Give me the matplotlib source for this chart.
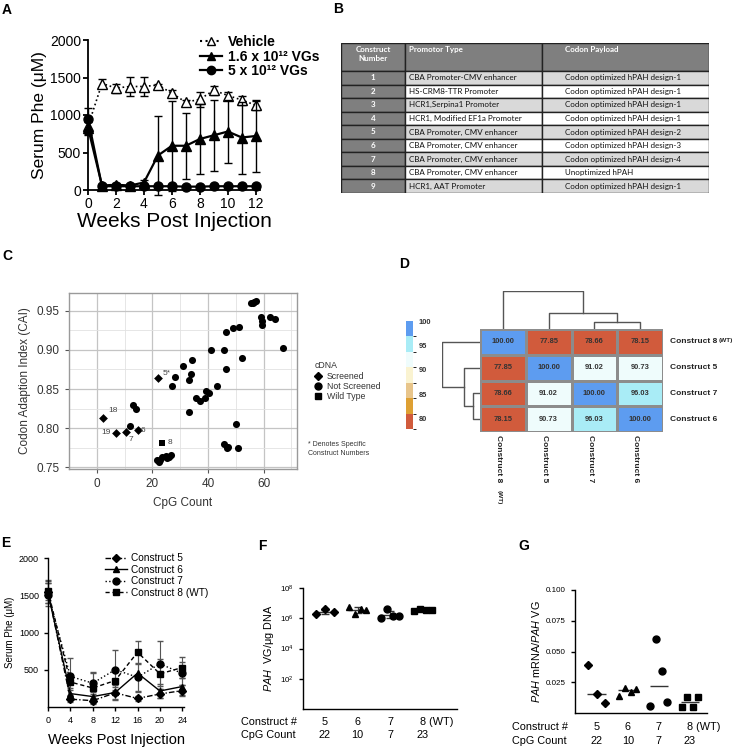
import numpy as np
import matplotlib
matplotlib.use("Agg")
import matplotlib.pyplot as plt
from matplotlib.colors import ListedColormap, BoundaryNorm
from matplotlib.cm import ScalarMappable
from matplotlib.lines import Line2D
from matplotlib.patches import Rectangle

plt.rcParams['font.family'] = ['Liberation Sans', 'DejaVu Sans']
plt.rcParams['mathtext.fontset'] = 'custom'
plt.rcParams['mathtext.rm'] = 'Liberation Sans'
plt.rcParams['mathtext.it'] = 'Liberation Sans:italic'
plt.rcParams['mathtext.bf'] = 'Liberation Sans:bold'
plt.rcParams['mathtext.default'] = 'regular'

W, H = 736, 747

# ---------------- panel A: serum Phe over 12 weeks
a_weeks = [0, 1, 2, 3, 4, 5, 6, 7, 8, 9, 10, 11, 12]
a_vehicle = [850, 1420, 1360, 1380, 1380, 1400, 1290, 1170, 1210, 1330, 1260, 1200, 1130]
a_vehicle_sd = [110, 60, 60, 130, 130, 20, 50, 30, 100, 60, 50, 60, 60]
a_low = [830, 60, 70, 60, 100, 460, 590, 590, 680, 730, 780, 700, 720]
a_low_sd = [80, 20, 20, 20, 30, 530, 600, 440, 470, 470, 420, 480, 480]
a_high = [950, 50, 50, 50, 50, 50, 50, 45, 45, 50, 50, 50, 50]
a_high_sd = [150, 10, 10, 10, 10, 10, 10, 10, 10, 10, 10, 10, 10]
a_labels = ['Vehicle', '1.6 x 10¹² VGs', '5 x 10¹² VGs']

# ---------------- panel B: construct table
b_headers = ['Construct\nNumber', 'Promotor Type', 'Codon Payload']
b_numbers = ['1', '2', '3', '4', '5', '6', '7', '8', '9']
b_promoters = ['CBA Promoter-CMV enhancer', 'HS-CRM8-TTR Promoter', 'HCR1,Serpina1 Promoter',
               'HCR1, Modified EF1a Promoter', 'CBA Promoter, CMV enhancer',
               'CBA Promoter, CMV enhancer', 'CBA Promoter, CMV enhancer',
               'CBA Promoter, CMV enhancer', 'HCR1, AAT Promoter']
b_payloads = ['Codon optimized hPAH design-1', 'Codon optimized hPAH design-1',
              'Codon optimized hPAH design-1', 'Codon optimized hPAH design-1',
              'Codon optimized hPAH design-2', 'Codon optimized hPAH design-3',
              'Codon optimized hPAH design-4', 'Unoptimized hPAH', 'Codon optimized hPAH design-1']

# ---------------- panel C: CAI vs CpG
c_scr_x = [2.1, 6.9, 10.5, 14.8, 22.1]
c_scr_y = [0.813, 0.794, 0.795, 0.797, 0.864]
c_scr_labels = ['18', '19', '7', '6', '5*']
c_wt_x = [23.3]
c_wt_y = [0.781]
c_not_x = [12.1, 13.0, 14.2, 21.6, 22.2, 22.8, 23.6, 24.8, 25.4, 25.8, 26.6,
           27.2, 28.3, 31.0, 33.2, 33.8, 34.2, 33.0, 35.6, 37.2, 38.9, 39.4, 40.2,
           41.2, 43.3, 45.9, 46.3, 46.6, 49.1, 51.3, 52.2, 50.1, 45.9, 46.7, 47.3,
           50.7, 55.4, 56.1, 56.7, 57.2, 59.0, 59.4, 59.5, 62.2, 64.0, 66.8]
c_not_y = [0.803, 0.830, 0.824, 0.759, 0.757, 0.759, 0.763, 0.7645, 0.761, 0.763, 0.766,
           0.854, 0.866, 0.880, 0.862, 0.869, 0.887, 0.820, 0.839, 0.8345, 0.839, 0.8475, 0.8445,
           0.900, 0.854, 0.900, 0.9225, 0.8755, 0.928, 0.929, 0.890, 0.805, 0.779, 0.774, 0.776,
           0.775, 0.960, 0.960, 0.9615, 0.963, 0.942, 0.9375, 0.932, 0.942, 0.940, 0.9025]

# ---------------- panel D: identity heatmap
d_names = ['Construct 8', 'Construct 5', 'Construct 7', 'Construct 6']
d_ident = np.array([[100.00, 77.85, 78.66, 78.15],
                    [77.85, 100.00, 91.02, 90.73],
                    [78.66, 91.02, 100.00, 96.03],
                    [78.15, 90.73, 96.03, 100.00]])
d_colors = ['#d15b3c', '#dea033', '#e8c58b', '#faf3d1', '#effcfc', '#a9ecf6', '#5d9cf0']
d_ticks = [80, 85, 90, 95, 100]

# ---------------- panel E: serum Phe over 24 weeks
e_weeks = [0, 4, 8, 12, 16, 20, 24]
e_c5 = [1550, 105, 85, 190, 115, 175, 220]
e_c5_sd = [150, 40, 30, 80, 30, 60, 70]
e_c6 = [1530, 180, 140, 195, 455, 215, 275]
e_c6_sd = [140, 80, 60, 100, 250, 100, 120]
e_c7 = [1510, 410, 320, 500, 400, 580, 450]
e_c7_sd = [160, 250, 140, 270, 180, 300, 150]
e_c8 = [1560, 335, 255, 355, 735, 445, 530]
e_c8_sd = [130, 110, 210, 150, 150, 200, 140]
e_labels = ['Construct 5', 'Construct 6', 'Construct 7', 'Construct 8 (WT)']

# ---------------- panels F and G
fg_construct = ['5', '6', '7', '8 (WT)']
fg_cpg = ['22', '10', '7', '23']
f_vg = [[1.8e6, 3.8e6, 2.5e6],
        [5.6e6, 2.0e6, 3.8e6, 3.4e6],
        [1.1e6, 3.8e6, 1.5e6, 1.5e6],
        [3.0e6, 4.2e6, 3.4e6, 3.4e6]]
g_ratio = [[0.0389, 0.0158, 0.0084],
           [0.0136, 0.0207, 0.0171, 0.0198],
           [0.0057, 0.0600, 0.0342, 0.0090],
           [0.0049, 0.0130, 0.0049, 0.0130]]
markers = ['D', '^', 'o', 's']

fig = plt.figure(figsize=(W / 100, H / 100), dpi=100)


def px_axes(l, t, r, b):
    return fig.add_axes([l / W, 1 - b / H, (r - l) / W, (b - t) / H])


def prism_style(ax, lw=1.2):
    for s in ['top', 'right']:
        ax.spines[s].set_visible(False)
    for s in ['left', 'bottom']:
        ax.spines[s].set_linewidth(lw)
    ax.tick_params(width=lw, length=4, direction='out')


def letter(x, y, s):
    fig.text(x / W, 1 - y / H, s, fontsize=10, fontweight='bold', ha='center', va='center')


# ===== A
ax = px_axes(88, 40, 260, 190)
ax.errorbar(a_weeks, a_vehicle, yerr=a_vehicle_sd, color='black', ls=':', lw=1.2,
            marker='^', mfc='white', ms=6.5, capsize=3, elinewidth=1, clip_on=False, zorder=3)
ax.errorbar(a_weeks, a_low, yerr=a_low_sd, color='black', ls='-', lw=1.6,
            marker='^', ms=6.5, capsize=3, elinewidth=1, clip_on=False, zorder=4)
ax.errorbar(a_weeks, a_high, yerr=a_high_sd, color='black', ls='-', lw=1.6,
            marker='o', ms=6.5, capsize=3, elinewidth=1, clip_on=False, zorder=5)
ax.set_xlim(0, 12.3)
ax.set_ylim(0, 2000)
ax.set_xticks(range(0, 13, 2))
ax.set_yticks(range(0, 2001, 500))
prism_style(ax, 1.3)
ax.tick_params(labelsize=10, length=3.5, pad=1.5)
ax.set_ylabel('Serum Phe (μM)', fontsize=12.5, labelpad=2)
ax.set_xlabel('Weeks Post Injection', fontsize=15, labelpad=1)
handles = [Line2D([], [], color='black', ls=':', marker='^', mfc='white', ms=6),
           Line2D([], [], color='black', ls='-', lw=1.6, marker='^', ms=6),
           Line2D([], [], color='black', ls='-', lw=1.6, marker='o', ms=6)]
ax.legend(handles, a_labels, loc='upper left', bbox_to_anchor=(193 / W, 1 - 28 / H),
          bbox_transform=fig.transFigure, frameon=False, handlelength=1.6, handletextpad=0.4,
          labelspacing=0.05, borderpad=0, prop={'weight': 'bold', 'size': 10})
letter(7, 10, 'A')

# ===== B
ax = px_axes(341, 43, 709, 193)
ax.set_xlim(0, 368)
ax.set_ylim(150, 0)
ax.axis('off')
col_edges = [0, 64, 201, 368]
head_h = 28
row_h = (150 - head_h) / len(b_numbers)
dark = '#7f7f7f'
tfont = dict(family='Lato')
for ci in range(3):
    ax.add_patch(Rectangle((col_edges[ci], 0), col_edges[ci + 1] - col_edges[ci], head_h,
                           facecolor=dark, edgecolor='#222', lw=1))
ax.text(32, 3, b_headers[0], color='white', fontsize=5.8, fontweight='bold', ha='center',
        va='top', linespacing=1.3, **tfont)
ax.text(68, 3, b_headers[1], color='white', fontsize=5.8, fontweight='bold', ha='left', va='top', **tfont)
ax.text(224, 3, b_headers[2], color='white', fontsize=5.8, fontweight='bold', ha='left', va='top', **tfont)
for i, (num, prom, pay) in enumerate(zip(b_numbers, b_promoters, b_payloads)):
    y0 = head_h + i * row_h
    bg = '#d9d9d9' if i % 2 == 0 else 'white'
    ax.add_patch(Rectangle((0, y0), 64, row_h, facecolor=dark, edgecolor='#222', lw=1))
    ax.add_patch(Rectangle((64, y0), 137, row_h, facecolor=bg, edgecolor='#222', lw=1))
    ax.add_patch(Rectangle((201, y0), 167, row_h, facecolor=bg, edgecolor='#222', lw=1))
    yc = y0 + row_h / 2
    ax.text(32, yc, num, color='white', fontsize=5.8, fontweight='bold', ha='center', va='center', **tfont)
    ax.text(68, yc, prom, color='#111', fontsize=5.8, ha='left', va='center', **tfont)
    ax.text(224, yc, pay, color='#111', fontsize=5.8, ha='left', va='center', **tfont)
letter(338, 9, 'B')

# ===== C
ax = px_axes(69, 293, 297, 469)
ax.set_facecolor('white')
ax.set_xlim(-8.5, 72)
ax.set_ylim(0.7475, 0.973)
ax.set_xticks([0, 20, 40, 60])
ax.set_xticks([-10, 10, 30, 50, 70], minor=True)
ax.set_yticks([0.75, 0.80, 0.85, 0.90, 0.95])
ax.set_yticks([0.775, 0.825, 0.875, 0.925], minor=True)
ax.set_yticklabels(['0.75', '0.80', '0.85', '0.90', '0.95'])
ax.grid(which='major', color='#c4c4c4', lw=0.9)
ax.grid(which='minor', color='#e2e2e2', lw=0.6)
ax.set_axisbelow(True)
for s in ax.spines.values():
    s.set_color('#9a9a9a')
    s.set_linewidth(1)
ax.tick_params(which='major', length=3, color='#555', labelsize=8.5, labelcolor='#333')
ax.tick_params(which='minor', length=0)
ax.scatter(c_not_x, c_not_y, s=26, marker='o', color='black', lw=0, zorder=3)
ax.scatter(c_scr_x, c_scr_y, s=20, marker='D', color='black', lw=0, zorder=3)
ax.scatter(c_wt_x, c_wt_y, s=24, marker='s', color='black', lw=0, zorder=3)
offsets = {'18': (4, 3, 'left', 'bottom'), '19': (-4, 0, 'right', 'center'),
           '7': (2, -3, 'left', 'top'), '6': (2, 0, 'left', 'center'),
           '5*': (3, 1, 'left', 'bottom')}
for x, y, lab in zip(c_scr_x, c_scr_y, c_scr_labels):
    dx, dy, ha, va = offsets[lab]
    ax.annotate(lab, (x, y), xytext=(dx, dy), textcoords='offset points', fontsize=6,
                color='#444', ha=ha, va=va)
ax.annotate('8', (c_wt_x[0], c_wt_y[0]), xytext=(4, 0), textcoords='offset points',
            fontsize=6, color='#444', ha='left', va='center')
ax.set_xlabel('CpG Count', fontsize=8.5, color='#333', labelpad=5)
ax.set_ylabel('Codon Adaption Index (CAI)', fontsize=8.5, color='#333', labelpad=4)
leg_handles = [Line2D([], [], ls='', marker='D', color='black', ms=4),
               Line2D([], [], ls='', marker='o', color='black', ms=5),
               Line2D([], [], ls='', marker='s', color='black', ms=5)]
leg = ax.legend(leg_handles, ['Screened', 'Not Screened', 'Wild Type'], title='cDNA',
                loc='upper left', bbox_to_anchor=(310 / W, 1 - 357 / H),
                bbox_transform=fig.transFigure, frameon=False, fontsize=6.3, title_fontsize=6.3,
                handlelength=0.8, handletextpad=0.6, labelspacing=0.15, borderpad=0,
                alignment='left')
for t in leg.get_texts():
    t.set_color('#333')
leg.get_title().set_color('#333')
fig.text(308 / W, 1 - 449 / H, '* Denotes Specific\nConstruct Numbers', fontsize=5, color='#333',
         ha='left', va='center', linespacing=1.4)
letter(7, 256, 'C')

# ===== D
bounds = np.linspace(77.85, 100, len(d_colors) + 1)
cmap = ListedColormap(d_colors)
norm = BoundaryNorm(bounds, cmap.N)
n = len(d_names)
ax = px_axes(480, 329, 663, 432)
ax.pcolormesh(np.arange(n + 1), np.arange(n + 1), d_ident, cmap=cmap, norm=norm,
              edgecolors='#8c8c8c', linewidth=1)
ax.set_xlim(0, n)
ax.set_ylim(n, 0)
ax.axis('off')
for i in range(n):
    for j in range(n):
        ax.text(j + 0.5, i + 0.5, f'{d_ident[i, j]:.2f}', ha='center', va='center',
                fontsize=5.4, fontweight='bold', color='#333')
for i, nm in enumerate(d_names):
    ax.annotate(nm, (n, i + 0.5), xytext=(5, 0), textcoords='offset points', ha='left',
                va='center', fontsize=6, fontweight='bold', color='#222')
    ax.annotate(nm, (i + 0.5, n), xytext=(-3, -2), textcoords='offset points', ha='center',
                va='top', rotation=270, fontsize=6, fontweight='bold', color='#222')
ax.annotate('(WT)', (n, 0.5), xytext=(40, 1), textcoords='offset points', ha='left',
            va='center', fontsize=4.6, fontweight='bold', color='#222')
ax.annotate('(WT)', (0.5, n), xytext=(-3, -42), textcoords='offset points', ha='center',
            va='top', rotation=270, fontsize=4.6, fontweight='bold', color='#222')

# average-linkage clustering for the dendrograms
dist = 100 - d_ident
clusters = {i: ([i], float(i) + 0.5, 0.0) for i in range(n)}
links = []
next_id = n
while len(clusters) > 1:
    keys = list(clusters)
    best = None
    for a in range(len(keys)):
        for b in range(a + 1, len(keys)):
            ma, mb = clusters[keys[a]][0], clusters[keys[b]][0]
            dd = np.mean([dist[p, q] for p in ma for q in mb])
            if best is None or dd < best[0]:
                best = (dd, keys[a], keys[b])
    dd, ka, kb = best
    ca, cb = clusters.pop(ka), clusters.pop(kb)
    links.append((ca[1], ca[2], cb[1], cb[2], dd))
    clusters[next_id] = (ca[0] + cb[0], (ca[1] + cb[1]) / 2, dd)
    next_id += 1
top_h = links[-1][4]

axt = px_axes(480, 291, 663, 329)
axl = px_axes(442, 329, 480, 432)
for pa, ha_, pb, hb, h in links:
    axt.plot([pa, pa, pb, pb], [ha_, h, h, hb], color='#555', lw=1)
    axl.plot([ha_, h, h, hb], [pa, pa, pb, pb], color='#555', lw=1)
axt.set_xlim(0, n)
axt.set_ylim(0, top_h * 1.01)
axt.axis('off')
axl.set_ylim(n, 0)
axl.set_xlim(top_h * 1.01, 0)
axl.axis('off')

cax = px_axes(406, 321, 413, 429)
cb = fig.colorbar(ScalarMappable(norm=norm, cmap=cmap), cax=cax, ticks=d_ticks)
cb.outline.set_visible(False)
cax.tick_params(length=0, labelsize=5.4, pad=4)
for t in cax.get_yticklabels():
    t.set_fontweight('bold')
    t.set_color('#333')
letter(404, 264, 'D')

# ===== E
ax = px_axes(48, 558, 184, 707)
styles = [(0, (4, 1.5, 1, 1.5)), '-', ':', (0, (3, 2))]
series = [(e_c5, e_c5_sd), (e_c6, e_c6_sd), (e_c7, e_c7_sd), (e_c8, e_c8_sd)]
e_handles = []
for (vals, sd), ls, mk in zip(series, styles, markers):
    ms = 4 if mk == 'D' else 5
    ax.errorbar(e_weeks, vals, yerr=sd, color='black', ls=ls, lw=1, marker=mk, ms=ms,
                capsize=2, elinewidth=0.8, ecolor='#555', clip_on=False)
    e_handles.append(Line2D([], [], color='black', ls=ls, lw=1, marker=mk, ms=ms))
ax.set_xlim(0, 24.3)
ax.set_ylim(0, 2000)
ax.set_xticks(e_weeks)
ax.set_yticks([500, 1000, 1500, 2000])
prism_style(ax, 1)
ax.tick_params(labelsize=6.5, length=3)
ax.set_ylabel('Serum Phe (μM)', fontsize=7, labelpad=3)
ax.set_xlabel('Weeks Post Injection', fontsize=10.5, labelpad=6)
ax.legend(e_handles, e_labels, loc='upper left', bbox_to_anchor=(100 / W, 1 - 548 / H),
          bbox_transform=fig.transFigure, frameon=False, fontsize=7.3, handlelength=2.2,
          handletextpad=0.4, labelspacing=0.15, borderpad=0)
letter(6, 543, 'E')


def group_scatter(ax, groups, summary):
    for gi, vals in enumerate(groups):
        xc = gi + 1
        offs = np.linspace(-0.27, 0.27, len(vals))
        ms = 4 if markers[gi] == 'D' else 5
        ax.plot(xc + offs, vals, ls='', marker=markers[gi], color='black', ms=ms, clip_on=False, zorder=3)
        center, lo, hi = summary(vals)
        ax.hlines(center, xc - 0.3, xc + 0.3, color='#333', lw=1, zorder=2)
        if lo is not None:
            ax.errorbar([xc], [center], yerr=[[center - lo], [hi - center]], color='#333',
                        capsize=3, elinewidth=0.9, lw=0, zorder=2)


def below_labels(ax, xleft, y1, y2):
    fig.text(xleft / W, 1 - y1 / H, 'Construct #', fontsize=7.8, ha='left', va='center')
    fig.text(xleft / W, 1 - y2 / H, 'CpG Count', fontsize=7.8, ha='left', va='center')
    for gi, (c, cp) in enumerate(zip(fg_construct, fg_cpg)):
        xd = ax.transData.transform((gi + 1, 1))[0]
        xa = xd - (3 if len(c) > 1 else 0)
        fig.text(xa / fig.dpi / fig.get_figwidth(), 1 - y1 / H, c, fontsize=7.8,
                 ha='left' if len(c) > 1 else 'center', va='center')
        fig.text(xd / fig.dpi / fig.get_figwidth(), 1 - y2 / H, cp, fontsize=7.8,
                 ha='center', va='center')


# ===== F
ax = px_axes(303, 588, 457, 709)
ax.set_yscale('log')
ax.set_ylim(1, 1e8)
ax.set_xlim(0.33, 5.04)


def geo_summary(vals):
    lv = np.log10(vals)
    m, s = lv.mean(), lv.std(ddof=1)
    return 10 ** m, 10 ** (m - s), 10 ** (s + m)


group_scatter(ax, f_vg, geo_summary)
ax.set_yticks([1e2, 1e4, 1e6, 1e8])
ax.set_yticks([], minor=True)
ax.set_xticks([])
prism_style(ax, 1)
ax.tick_params(labelsize=5.8, length=3)
ax.set_ylabel('$\\it{PAH}$  VG/μg DNA', fontsize=7.8, labelpad=3)
below_labels(ax, 241, 722, 735)
letter(262, 546, 'F')

# ===== G
ax = px_axes(575, 590, 707, 713)
ax.set_ylim(0, 0.1)
ax.set_xlim(0.3, 4.55)
group_scatter(ax, g_ratio, lambda v: (np.median(v), None, None))
ax.set_yticks([0.025, 0.05, 0.075, 0.1])
ax.set_yticklabels(['0.025', '0.050', '0.075', '0.100'])
ax.set_xticks([])
prism_style(ax, 1)
ax.tick_params(labelsize=5.8, length=3)
ax.set_ylabel('$\\it{PAH}$ mRNA/$\\it{PAH}$ VG', fontsize=7.8, labelpad=3)
below_labels(ax, 512, 727, 741)
letter(524, 546, 'G')

fig.savefig('out.png', dpi=100)
